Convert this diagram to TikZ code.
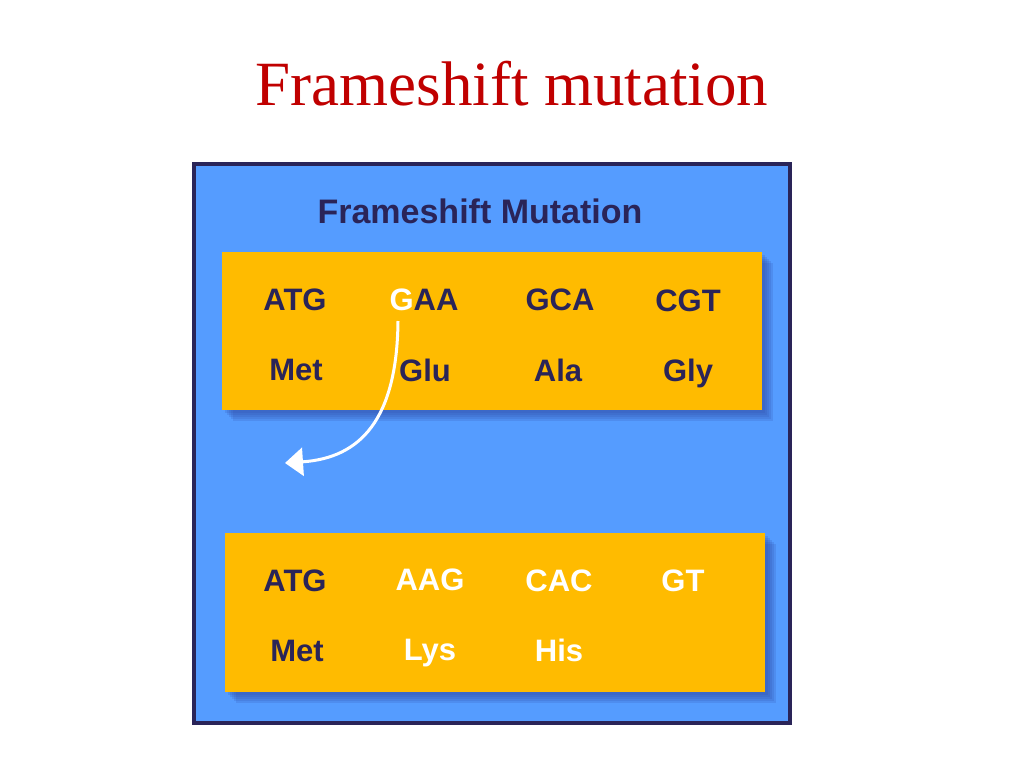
\documentclass[tikz,border=0pt]{standalone}
\usepackage{fontspec}
\setmainfont{Liberation Serif}
\setsansfont{Liberation Sans}
\usepackage{xcolor}
\usetikzlibrary{arrows.meta}

\definecolor{slidered}{HTML}{C00000}
\definecolor{panelblue}{HTML}{559CFF}
\definecolor{panelnavy}{HTML}{2A2458}
\definecolor{codonyellow}{HTML}{FFBB00}
\definecolor{shadowblue}{HTML}{2F4CA8}

\tikzset{
  codon/.style={font=\sffamily\bfseries\fontsize{31}{31}\selectfont, text=panelnavy, anchor=base, inner sep=0pt},
  shifted/.style={codon, text=white},
}

\begin{document}
\begin{tikzpicture}[x=1pt, y=-1pt]
        \useasboundingbox[fill=white] (0,0) rectangle (1024,768);

        % Slide title
        \node[anchor=base, text=slidered, font=\fontsize{63}{63}\selectfont] (title) at (512,105) {Frameshift mutation};

        % Blue panel
        \draw[line width=3.5pt, draw=panelnavy, fill=panelblue] (194,164) rectangle (790,723);
        \node[codon, font=\sffamily\bfseries\fontsize{34}{34}\selectfont] (heading) at (480,223) {Frameshift Mutation};

        % Shadows
        \foreach \d in {3,5,7,9,11} {
            \fill[shadowblue, opacity=0.18] (222+\d,252+\d) rectangle (762+\d,410+\d);
            \fill[shadowblue, opacity=0.18] (225+\d,533+\d) rectangle (765+\d,692+\d);
        }

        % Original reading frame
        \fill[codonyellow] (222,252) rectangle (762,410);
        \node[codon] (atg) at (295,310) {ATG};
        \node[codon] (gaa) at (424,310) {\textcolor{white}{G}AA};
        \node[codon] (gca) at (560,310) {GCA};
        \node[codon] (cgt) at (688,311) {CGT};
        \node[codon] (met) at (296,380) {Met};
        \node[codon] (glu) at (425,381) {Glu};
        \node[codon] (ala) at (558,381) {Ala};
        \node[codon] (gly) at (688,381) {Gly};

        % Shifted reading frame
        \fill[codonyellow] (225,533) rectangle (765,692);
        \node[codon] (atgb) at (295,591) {ATG};
        \node[shifted] (aag) at (430,590) {AAG};
        \node[shifted] (cac) at (559,591) {CAC};
        \node[shifted] (gt) at (683,591) {GT};
        \node[codon] (metb) at (297,661) {Met};
        \node[shifted] (lys) at (430,660) {Lys};
        \node[shifted] (his) at (559,661) {His};

        % Deleted base
        \coordinate (gfoot) at (398,321);
        \coordinate (shiftend) at (285,463);
        \draw[white, line width=3pt, -{Triangle[length=18pt, width=28pt]}] (gfoot) .. controls (397,420) and (360,458) .. (shiftend);
\end{tikzpicture}
\end{document}
